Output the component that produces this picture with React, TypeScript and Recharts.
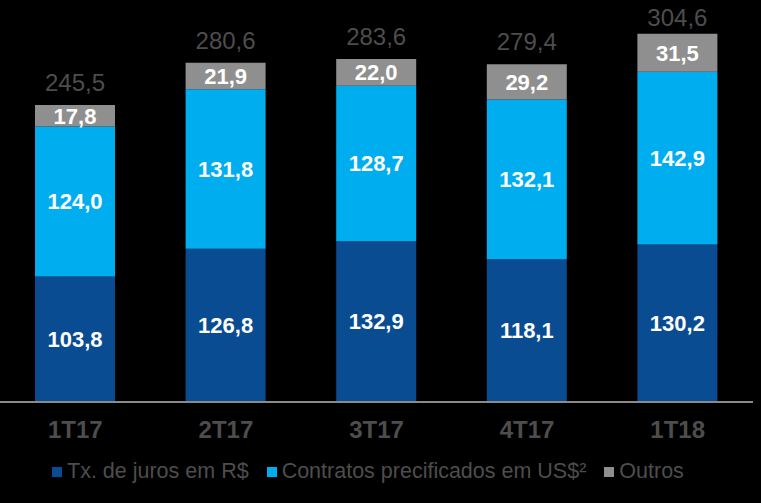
import React from 'react';
import { BarChart, Bar, XAxis, YAxis, LabelList } from 'recharts';

const quarters = ['1T17', '2T17', '3T17', '4T17', '1T18'];
const jurosReais = [103.8, 126.8, 132.9, 118.1, 130.2];
const contratosUsd = [124.0, 131.8, 128.7, 132.1, 142.9];
const outros = [17.8, 21.9, 22.0, 29.2, 31.5];
const totals = [245.5, 280.6, 283.6, 279.4, 304.6];

const DARK_BLUE = '#0A4C92';
const LIGHT_BLUE = '#00AEEF';
const GRAY = '#8F8F8F';
const TEXT_GRAY = '#4D4D4D';
const SANS = "'Liberation Sans', Arial, sans-serif";

const data = quarters.map((q, i) => ({
  name: q,
  juros: jurosReais[i],
  contratos: contratosUsd[i],
  outros: outros[i],
  total: totals[i],
}));

const fmt = (v: any) => Number(v).toFixed(1).replace('.', ',');

const legendItems = [
  { label: 'Tx. de juros em R$', color: DARK_BLUE },
  { label: 'Contratos precificados em US$²', color: LIGHT_BLUE },
  { label: 'Outros', color: GRAY },
];

const QuarterTick = ({ x, y, payload }: any) => (
  <text
    x={x}
    y={y + 28}
    textAnchor="middle"
    fill={TEXT_GRAY}
    fontFamily={SANS}
    fontWeight="bold"
    fontSize={24}
  >
    {payload.value}
  </text>
);

// total above each stack; kept inside the picture for the tallest bar
const TotalLabel = ({ x, y, width, value }: any) => (
  <text
    x={x + width / 2}
    y={Math.max(y - 14, 26)}
    textAnchor="middle"
    fill={TEXT_GRAY}
    fontFamily={SANS}
    fontSize={24}
  >
    {fmt(value)}
  </text>
);

const innerLabel = {
  fill: '#FFFFFF',
  fontFamily: SANS,
  fontWeight: 'bold' as const,
  fontSize: 22,
};

export default function App() {
  return (
    <div style={{ position: 'fixed', left: 0, top: 0, width: 761, height: 503, background: '#000' }}>
      <BarChart
        width={761}
        height={503}
        data={data}
        margin={{ top: 3, right: 8, left: 0, bottom: 61 }}
      >
        <XAxis
          dataKey="name"
          axisLine={{ stroke: '#8A8A8A', strokeWidth: 2 }}
          tickLine={false}
          height={40}
          tick={<QuarterTick />}
        />
        <YAxis hide domain={[0, 330]} />
        <Bar dataKey="juros" stackId="a" fill={DARK_BLUE} barSize={80} isAnimationActive={false}>
          <LabelList dataKey="juros" position="center" formatter={fmt} {...innerLabel} />
        </Bar>
        <Bar dataKey="contratos" stackId="a" fill={LIGHT_BLUE} barSize={80} isAnimationActive={false}>
          <LabelList dataKey="contratos" position="center" formatter={fmt} {...innerLabel} />
        </Bar>
        <Bar dataKey="outros" stackId="a" fill={GRAY} barSize={80} isAnimationActive={false}>
          <LabelList dataKey="outros" position="center" formatter={fmt} {...innerLabel} />
          <LabelList dataKey="total" content={<TotalLabel />} />
        </Bar>
      </BarChart>
      <div
        style={{
          position: 'absolute',
          left: 52,
          top: 459,
          height: 25,
          display: 'flex',
          alignItems: 'center',
          fontFamily: SANS,
          fontSize: 21.5,
          color: TEXT_GRAY,
          whiteSpace: 'nowrap',
        }}
      >
        {legendItems.map((item) => (
          <div key={item.label} style={{ display: 'flex', alignItems: 'center', marginRight: 18 }}>
            <span style={{ width: 10, height: 10, background: item.color, marginRight: 5, display: 'inline-block' }} />
            <span>{item.label}</span>
          </div>
        ))}
      </div>
    </div>
  );
}
